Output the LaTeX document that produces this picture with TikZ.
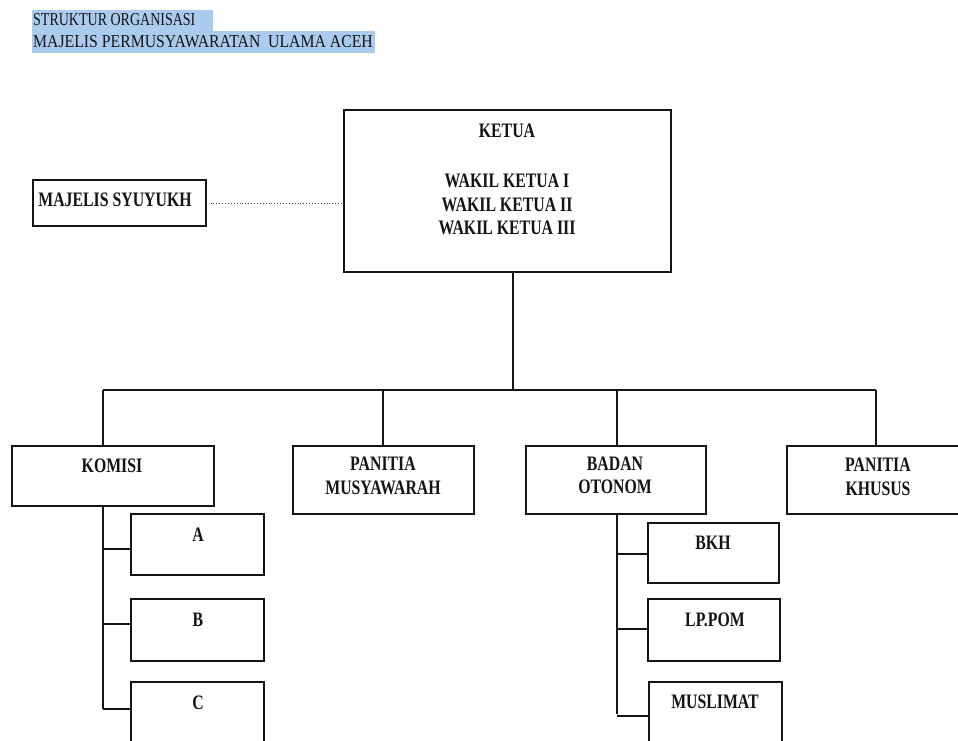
\documentclass[tikz,border=0pt]{standalone}
\usepackage{fontspec}
\setmainfont{Liberation Serif}
\usepackage{graphicx}
\definecolor{hl}{RGB}{170,202,238}
\definecolor{ink}{RGB}{20,20,20}
\newcommand\boxtxt[1]{\scalebox{1}[1.3]{\fontsize{15.8}{18}\selectfont\bfseries\begin{tabular}{@{}c@{}}#1\end{tabular}}}
\newcommand\titletxt[1]{\scalebox{1}[1.3]{\fontsize{14}{16}\selectfont #1}}
\begin{document}
\begin{tikzpicture}[x=1pt,y=-1pt,
  orgbox/.style={draw=ink,line width=1.1pt,fill=white,inner sep=0pt,minimum width=#1},
  conn/.style={draw=ink,line width=1.1pt},
  lbl/.style={inner sep=0pt,text=ink,anchor=center},
  ttl/.style={inner sep=0pt,anchor=base west,text=ink}]
\clip (0,0) rectangle (958,741);
\fill[white] (0,0) rectangle (958,741);
% title highlight
\fill[hl] (32,10) rectangle (213,31);
\fill[hl] (32,31) rectangle (375,53);
\node[ttl] (t1) at (33,26) {\titletxt{STRUKTUR ORGANISASI}};
\node[ttl] (t2) at (33,48) {\titletxt{\scalebox{1.125}[1]{MAJELIS PERMUSYAWARATAN\ \ ULAMA ACEH}}};
% boxes
\node[orgbox=173pt,minimum height=46pt] (majelis) at (119.5,203) {};
\node[orgbox=327pt,minimum height=162pt] (ketua) at (507.5,191) {};
\node[orgbox=202pt,minimum height=60pt] (komisi) at (113,476) {};
\node[orgbox=181pt,minimum height=68pt] (panmus) at (383.5,480) {};
\node[orgbox=180pt,minimum height=68pt] (badan) at (616,480) {};
\node[orgbox=182pt,minimum height=68pt] (pankhu) at (878,480) {};
\node[orgbox=133pt,minimum height=61pt] (A) at (197.5,544.5) {};
\node[orgbox=133pt,minimum height=62pt] (B) at (197.5,630) {};
\node[orgbox=133pt,minimum height=78pt] (C) at (197.5,721) {};
\node[orgbox=131pt,minimum height=60pt] (bkh) at (713.5,553) {};
\node[orgbox=132pt,minimum height=62pt] (lppom) at (714,630) {};
\node[orgbox=133pt,minimum height=78pt] (muslimat) at (715.5,721) {};
% labels
\node[lbl] (lmaj) at (115,202) {\boxtxt{MAJELIS SYUYUKH}};
\node[lbl] (lket) at (507,132.5) {\boxtxt{KETUA}};
\node[lbl] (lwak) at (507,206.5) {\boxtxt{WAKIL KETUA I\\WAKIL KETUA II\\WAKIL KETUA III}};
\node[lbl] (lkom) at (112,468) {\boxtxt{KOMISI}};
\node[lbl] (lpm) at (383,478) {\boxtxt{PANITIA\\MUSYAWARAH}};
\node[lbl] (lbo) at (615,477.5) {\boxtxt{BADAN\\OTONOM}};
\node[lbl] (lpk) at (878,479) {\boxtxt{PANITIA\\KHUSUS}};
\node[lbl] (la) at (198,537) {\boxtxt{A}};
\node[lbl] (lb) at (198,622) {\boxtxt{B}};
\node[lbl] (lc) at (198,705) {\boxtxt{C}};
\node[lbl] (lbkh) at (713,545) {\boxtxt{BKH}};
\node[lbl] (llp) at (715,622) {\boxtxt{LP.POM}};
\node[lbl] (lmus) at (715,704) {\boxtxt{MUSLIMAT}};
% connector points
\coordinate (top) at (513,390);
\coordinate (b1) at (103,390);
\coordinate (b2) at (383,390);
\coordinate (b3) at (617,390);
\coordinate (b4) at (876,390);
\coordinate (ka) at (103,549);
\coordinate (kb) at (103,624);
\coordinate (kc) at (103,709);
\coordinate (oa) at (617,554);
\coordinate (ob) at (617,629);
\coordinate (oc) at (617,716);
% connectors
\draw[draw=ink!80,line width=0.9pt,dotted,shorten <=4pt] (majelis.east) -- (majelis.east -| ketua.west);
\draw[conn] (top |- ketua.south) -- (top);
\draw[conn] (b1) -- (b4);
\draw[conn] (b1) -- (b1 |- komisi.north);
\draw[conn] (b2) -- (b2 |- panmus.north);
\draw[conn] (b3) -- (b3 |- badan.north);
\draw[conn] (b4) -- (b4 |- pankhu.north);
\draw[conn] (b1 |- komisi.south) -- (kc);
\draw[conn] (ka) -- (ka -| A.west);
\draw[conn] (kb) -- (kb -| B.west);
\draw[conn] (kc) -- (kc -| C.west);
\draw[conn] (b3 |- badan.south) -- ([yshift=2pt]oc);
\draw[conn] (oa) -- (oa -| bkh.west);
\draw[conn] (ob) -- (ob -| lppom.west);
\draw[conn] (oc) -- (oc -| muslimat.west);
\end{tikzpicture}
\end{document}
